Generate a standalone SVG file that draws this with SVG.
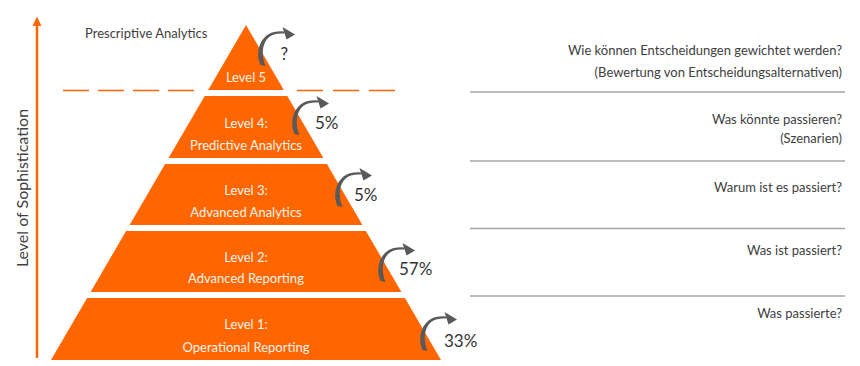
<svg xmlns="http://www.w3.org/2000/svg" xmlns:xlink="http://www.w3.org/1999/xlink" width="860" height="366" viewBox="0 0 860 366">
<defs>
<style>
.lvl{fill:#FF6600;}
.lt{font-family:Lato,"Liberation Sans",sans-serif;font-weight:400;font-size:13px;fill:#FFF3EA;text-anchor:middle;}
.dk{font-family:Lato,"Liberation Sans",sans-serif;font-weight:400;font-size:13px;fill:#404040;}
.q{font-family:Lato,"Liberation Sans",sans-serif;font-weight:400;font-size:13px;fill:#404040;text-anchor:end;}
.pct{font-family:Lato,"Liberation Sans",sans-serif;font-weight:400;font-size:17px;fill:#333333;}
.sep{stroke:#A6A6A6;stroke-width:1.5;fill:none;}
.dash{stroke:#FF6600;stroke-width:1.5;fill:none;}
.arc{fill:#595959;}
.head{fill:#595959;}
</style>
<g id="carrow">
<path class="arc" d="M-2.5,-1 C-8,-14 -3,-30 10,-33.8 Q16,-35.2 21.5,-34.6 L21.5,-32.4 Q16,-33 11,-31.6 C0,-28 -3,-14 2.5,0 Z"/>
<polygon class="head" points="19.5,-39 32,-31.5 23.5,-26.5"/>
</g>
</defs>

<g id="axis">
<line x1="37" y1="358" x2="37" y2="24" stroke="#FF6600" stroke-width="2.5"/>
<polygon points="32.5,26 37,16.5 41.5,26" fill="#FF6600"/>
<text class="dk" style="font-size:16px" text-anchor="middle" transform="translate(28,188) rotate(-90)">Level of Sophistication</text>
</g>

<g id="divider">
<line class="dash" x1="63" y1="90.5" x2="195" y2="90.5" stroke-dasharray="26 9"/>
<line class="dash" x1="297" y1="90.5" x2="396" y2="90.5" stroke-dasharray="26 10"/>
</g>

<g id="level5">
<polygon class="lvl" points="246,25 283.8,90 208.2,90"/>
<text class="lt" x="246" y="82">Level 5</text>
</g>
<text class="dk" x="85" y="38">Prescriptive Analytics</text>

<g id="level4">
<polygon class="lvl" points="204.7,96 287.3,96 323.4,158 168.6,158"/>
<text class="lt" x="246" y="128">Level 4:</text>
<text class="lt" x="246" y="150">Predictive Analytics</text>
</g>

<g id="level3">
<polygon class="lvl" points="165.1,164 326.9,164 362.4,225 129.6,225"/>
<text class="lt" x="246" y="195">Level 3:</text>
<text class="lt" x="246" y="216.5">Advanced Analytics</text>
</g>

<g id="level2">
<polygon class="lvl" points="126.1,231 365.9,231 401.4,292 90.6,292"/>
<text class="lt" x="246" y="261.5">Level 2:</text>
<text class="lt" x="246" y="283">Advanced Reporting</text>
</g>

<g id="level1">
<polygon class="lvl" points="87.1,298 404.9,298 441,360 51,360"/>
<text class="lt" x="246" y="329">Level 1:</text>
<text class="lt" x="246" y="351.5">Operational Reporting</text>
</g>

<g id="connectors">
<use xlink:href="#carrow" transform="translate(263,66)"/>
<use xlink:href="#carrow" transform="translate(297,135)"/>
<use xlink:href="#carrow" transform="translate(340,207)"/>
<use xlink:href="#carrow" transform="translate(383,282)"/>
<use xlink:href="#carrow" transform="translate(425,351)"/>
</g>

<g id="rates">
<text class="pct" x="280.5" y="60">?</text>
<text class="pct" x="315" y="129">5%</text>
<text class="pct" x="354" y="201">5%</text>
<text class="pct" x="399" y="275">57%</text>
<text class="pct" x="444" y="347">33%</text>
</g>

<g id="questions">
<line class="sep" x1="470" y1="92" x2="845" y2="92"/>
<line class="sep" x1="470" y1="161" x2="845" y2="161"/>
<line class="sep" x1="470" y1="228.5" x2="845" y2="228.5"/>
<line class="sep" x1="470" y1="296" x2="845" y2="296"/>
<text class="q" x="842" y="54.5">Wie können Entscheidungen gewichtet werden?</text>
<text class="q" x="842" y="77">(Bewertung von Entscheidungsalternativen)</text>
<text class="q" x="842" y="124">Was könnte passieren?</text>
<text class="q" x="842" y="142.5">(Szenarien)</text>
<text class="q" x="842" y="191.5">Warum ist es passiert?</text>
<text class="q" x="842" y="254.5">Was ist passiert?</text>
<text class="q" x="842" y="317.5">Was passierte?</text>
</g>
</svg>
